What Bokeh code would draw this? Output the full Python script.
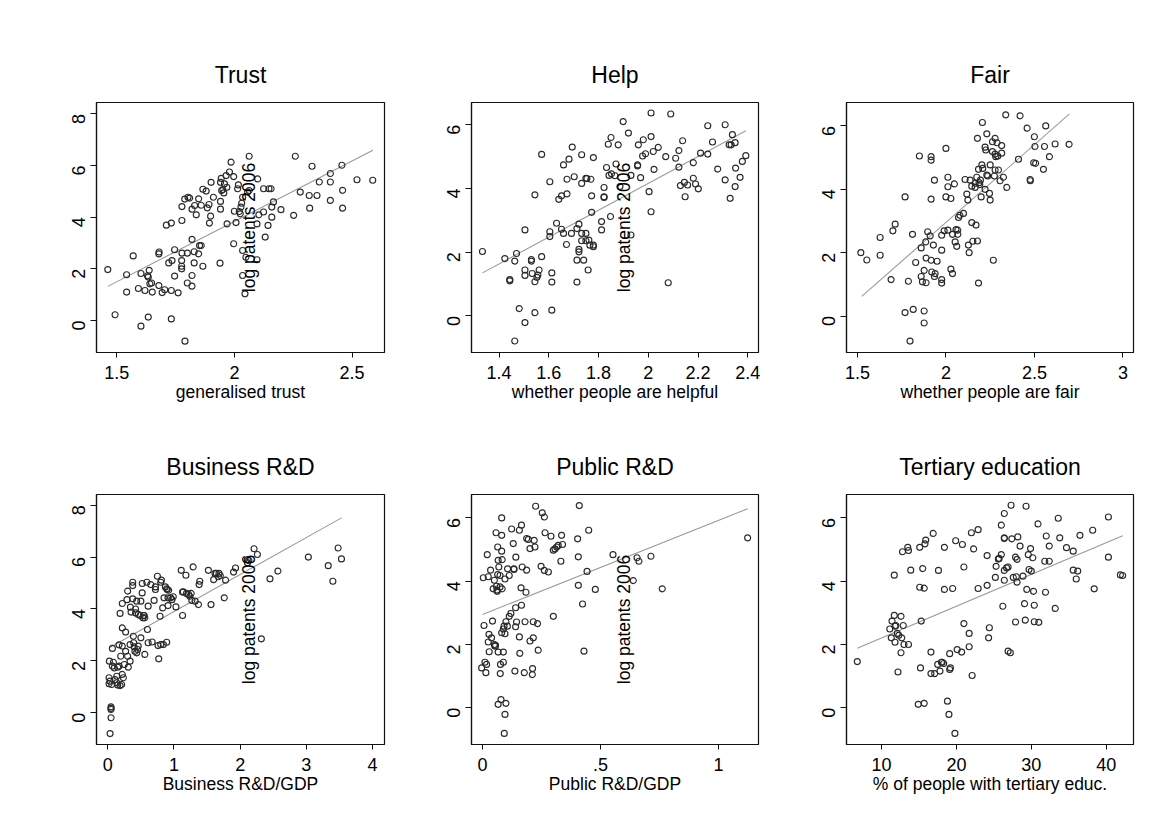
from math import pi
from bokeh.plotting import figure
from bokeh.models import Range1d, FixedTicker, Label
from bokeh.layouts import row, column
from bokeh.embed import file_html
from bokeh.resources import INLINE

FONT = "Liberation Sans"

# ---------------- data ----------------
trust_x = [1.462, 1.493, 1.542, 1.542, 1.570, 1.592, 1.603, 1.603, 1.620, 1.631, 1.634, 1.638, 1.641, 1.648,
           1.651, 1.634, 1.679, 1.679, 1.680, 1.693, 1.704, 1.711, 1.721, 1.732, 1.735, 1.732, 1.732, 1.746,
           1.746, 1.761, 1.776, 1.776, 1.776, 1.777, 1.777, 1.777, 1.790, 1.789, 1.800, 1.800, 1.803, 1.810,
           1.820, 1.820, 1.820, 1.820, 1.829, 1.829, 1.831, 1.838, 1.848, 1.848, 1.852, 1.859, 1.859, 1.866,
           1.866, 1.880, 1.885, 1.892, 1.894, 1.899, 1.901, 1.911, 1.939, 1.941, 1.941, 1.941, 1.944, 1.946,
           1.955, 1.951, 1.958, 1.968, 1.969, 1.965, 1.979, 1.986, 1.997, 1.997, 2.000, 2.007, 2.014, 2.017,
           2.021, 2.025, 2.028, 2.031, 2.035, 2.035, 2.035, 2.045, 2.049, 2.056, 2.063, 2.063, 2.096, 2.099,
           2.096, 2.104, 2.259, 2.330, 2.408, 2.457, 2.361, 2.408, 2.521, 2.588, 2.280, 2.318, 2.351, 2.460,
           2.320, 2.408, 2.460, 2.252, 2.198, 2.166, 2.159, 2.156, 2.147, 2.124, 2.143, 2.131, 2.159, 2.124]
trust_y = [1.97, 0.22, 1.77, 1.10, 2.50, 1.24, -0.22, 1.82, 1.16, 1.73, 0.13, 1.94, 1.42, 1.45,
           1.10, 1.68, 1.35, 2.58, 2.65, 1.08, 1.19, 3.69, 2.23, 3.77, 2.32, 0.06, 1.16, 2.74,
           1.72, 1.07, 2.32, 2.10, 2.00, 2.61, 3.87, 4.41, -0.80, 4.70, 1.45, 2.61, 4.77, 4.74,
           3.14, 1.33, 1.74, 4.31, 2.23, 2.66, 4.45, 4.09, 4.71, 2.58, 2.90, 2.90, 4.46, 5.08,
           2.10, 5.01, 4.36, 4.49, 3.77, 4.04, 5.35, 4.77, 2.22, 5.35, 4.31, 4.61, 5.50, 5.03,
           4.94, 5.07, 5.29, 5.16, 3.74, 5.61, 5.75, 6.13, 5.57, 2.97, 4.23, 3.79, 5.10, 5.25,
           4.22, 4.13, 4.39, 4.54, 4.77, 2.71, 1.74, 1.03, 2.45, 4.97, 6.36, 5.03, 2.35, 5.48,
           3.74, 4.09, 6.36, 5.97, 5.69, 6.01, 5.36, 5.36, 5.45, 5.43, 4.97, 4.84, 4.84, 5.04,
           4.35, 4.65, 4.35, 4.07, 4.29, 4.59, 4.39, 5.10, 5.10, 5.10, 3.68, 3.23, 4.00, 4.20]

help_x = [1.333, 1.423, 1.443, 1.443, 1.463, 1.470, 1.481, 1.463, 1.504, 1.504, 1.504, 1.504, 1.530, 1.530,
          1.533, 1.544, 1.544, 1.544, 1.552, 1.556, 1.561, 1.571, 1.571, 1.604, 1.604, 1.604, 1.612, 1.612,
          1.612, 1.631, 1.640, 1.651, 1.651, 1.659, 1.659, 1.671, 1.673, 1.673, 1.681, 1.691, 1.694, 1.702,
          1.713, 1.713, 1.713, 1.721, 1.721, 1.721, 1.732, 1.732, 1.732, 1.732, 1.740, 1.749, 1.749, 1.749,
          1.753, 1.758, 1.761, 1.765, 1.769, 1.772, 1.772, 1.779, 1.779, 1.779, 1.812, 1.812, 1.822, 1.822,
          1.822, 1.832, 1.839, 1.842, 1.848, 1.850, 1.852, 1.866, 1.870, 1.879, 1.886, 1.899, 1.920, 1.930,
          1.930, 1.957, 1.957, 1.960, 1.969, 1.977, 1.980, 1.989, 2.003, 2.011, 2.011, 2.011, 2.020, 2.023,
          2.040, 2.070, 2.080, 2.090, 2.239, 2.309, 2.338, 2.258, 2.138, 2.123, 2.110, 2.210, 2.239, 2.325,
          2.333, 2.349, 2.392, 2.378, 2.351, 2.369, 2.349, 2.329, 2.309, 2.279, 2.181, 2.181, 2.190, 2.201,
          2.158, 2.145, 2.129, 2.148, 2.123]
help_y = [2.02, 1.80, 1.14, 1.10, 1.72, 1.96, 0.23, -0.79, -0.21, 2.70, 1.44, 1.27, 1.77, 1.72,
          1.33, 3.80, 1.07, 0.10, 1.21, 1.28, 1.44, 5.07, 1.86, 4.21, 2.64, 2.49, 1.35, 1.06,
          0.18, 2.91, 3.66, 3.77, 2.72, 4.74, 2.59, 2.24, 3.83, 4.29, 4.92, 2.59, 5.30, 4.37,
          2.74, 1.06, 1.75, 2.88, 2.09, 2.01, 5.06, 4.16, 2.59, 2.36, 1.75, 2.59, 4.32, 2.36,
          4.31, 1.44, 2.38, 2.22, 4.29, 3.77, 3.25, 4.97, 2.17, 2.22, 2.96, 2.70, 4.03, 3.74,
          3.72, 4.66, 5.39, 4.41, 3.12, 5.60, 4.46, 4.40, 4.77, 5.37, 4.06, 6.10, 5.74, 4.41,
          2.54, 4.74, 4.71, 5.37, 4.34, 5.02, 5.53, 5.09, 3.90, 6.37, 5.63, 3.27, 5.16, 4.60,
          5.29, 5.00, 1.04, 6.34, 5.97, 6.00, 5.69, 5.46, 5.50, 5.19, 4.95, 5.11, 5.08, 5.37,
          5.37, 5.44, 5.03, 4.85, 4.64, 4.35, 4.06, 3.69, 4.27, 4.61, 4.81, 4.32, 4.14, 3.99,
          4.11, 4.19, 4.09, 3.74, 4.67]

fair_x = [1.519, 1.553, 1.628, 1.628, 1.690, 1.700, 1.713, 1.769, 1.769, 1.788, 1.797, 1.811, 1.815, 1.829,
          1.850, 1.860, 1.860, 1.867, 1.877, 1.877, 1.877, 1.886, 1.888, 1.888, 1.897, 1.911, 1.916, 1.916,
          1.916, 1.916, 1.920, 1.929, 1.935, 1.935, 1.939, 1.950, 1.976, 1.976, 1.976, 1.976, 1.990, 2.000,
          2.000, 2.011, 2.011, 2.011, 2.028, 2.028, 2.037, 2.037, 2.048, 2.052, 2.057, 2.061, 2.067, 2.067,
          2.071, 2.079, 2.099, 2.108, 2.118, 2.124, 2.127, 2.131, 2.137, 2.146, 2.146, 2.152, 2.165, 2.165,
          2.170, 2.174, 2.178, 2.178, 2.184, 2.184, 2.187, 2.191, 2.195, 2.199, 2.203, 2.206, 2.208, 2.221,
          2.221, 2.225, 2.231, 2.231, 2.236, 2.246, 2.250, 2.250, 2.263, 2.263, 2.268, 2.274, 2.278, 2.278,
          2.278, 2.282, 2.289, 2.293, 2.297, 2.306, 2.315, 2.315, 2.325, 2.338, 2.344, 2.410, 2.419, 2.459,
          2.476, 2.477, 2.496, 2.500, 2.503, 2.507, 2.551, 2.557, 2.564, 2.585, 2.617, 2.696]
fair_y = [2.00, 1.77, 2.48, 1.92, 1.15, 2.69, 2.90, 3.76, 0.11, 1.10, -0.79, 2.58, 0.21, 1.69,
          5.05, 2.15, 1.25, 1.08, 1.44, -0.22, 0.16, 2.34, 1.05, 1.83, 2.66, 2.53, 4.92, 5.03,
          3.69, 1.76, 1.39, 2.24, 1.25, 4.29, 1.34, 1.73, 2.08, 2.55, 1.15, 1.04, 2.69, 5.29,
          3.76, 4.08, 4.38, 2.71, 3.71, 1.48, 1.34, 2.58, 4.17, 2.34, 2.73, 2.20, 2.58, 2.71,
          3.11, 3.18, 3.24, 4.31, 3.85, 3.66, 2.24, 2.00, 4.29, 2.95, 4.10, 2.36, 4.19, 4.06,
          2.87, 4.38, 5.61, 2.37, 1.04, 4.63, 4.21, 4.15, 4.29, 3.76, 4.77, 6.11, 4.66, 4.00,
          5.33, 5.24, 5.75, 4.45, 4.42, 3.87, 3.66, 4.77, 5.19, 5.50, 1.76, 4.42, 5.61, 4.61,
          5.11, 5.03, 5.47, 5.05, 4.61, 4.27, 5.38, 5.14, 4.38, 6.35, 4.06, 4.95, 6.32, 5.93,
          4.31, 4.27, 4.84, 5.66, 5.35, 4.82, 4.63, 5.35, 6.00, 5.03, 5.43, 5.42]

bus_x = [0.035, 0.050, 0.050, 0.050, 0.050, 0.020, 0.035, 0.020, 0.060, 0.025, 0.085, 0.070, 0.100, 0.110,
         0.136, 0.150, 0.186, 0.136, 0.210, 0.220, 0.236, 0.170, 0.150, 0.070, 0.170, 0.220, 0.196, 0.186,
         0.220, 0.220, 0.270, 0.300, 0.290, 0.250, 0.270, 0.300, 0.310, 0.337, 0.337, 0.342, 0.352, 0.377,
         0.377, 0.377, 0.387, 0.392, 0.400, 0.410, 0.420, 0.420, 0.437, 0.437, 0.460, 0.450, 0.460, 0.490,
         0.500, 0.500, 0.520, 0.520, 0.530, 0.540, 0.550, 0.560, 0.560, 0.590, 0.600, 0.610, 0.610, 0.650,
         0.670, 0.700, 0.720, 0.720, 0.750, 0.760, 0.770, 0.790, 0.800, 0.800, 0.810, 0.830, 0.840, 0.850,
         0.870, 0.890, 0.890, 0.900, 0.910, 0.910, 0.920, 0.950, 0.970, 0.990, 1.030, 1.110, 1.130, 1.130,
         1.140, 1.180, 1.190, 1.220, 1.240, 1.260, 1.270, 1.290, 1.320, 1.370, 1.380, 1.390, 1.520, 1.560,
         1.600, 1.620, 1.640, 1.670, 1.680, 1.700, 1.760, 1.780, 1.900, 1.930, 2.110, 2.110, 2.130, 2.210,
         2.260, 2.320, 2.450, 2.570, 3.030, 3.330, 3.400, 3.480, 3.530]
bus_y = [-0.80, -0.19, 0.13, 0.23, 0.17, 1.12, 1.22, 1.35, 1.09, 1.99, 1.95, 1.80, 1.73, 1.28,
         1.16, 1.07, 1.05, 1.41, 1.09, 1.48, 1.35, 1.80, 1.76, 2.48, 2.62, 2.57, 2.18, 3.83,
         4.21, 3.27, 3.11, 4.69, 4.36, 1.86, 2.37, 2.18, 1.76, 1.99, 2.63, 4.07, 3.88, 5.03,
         4.90, 4.39, 2.95, 2.70, 2.54, 2.37, 4.00, 3.85, 4.30, 2.31, 2.57, 2.44, 3.79, 3.75,
         4.30, 2.89, 4.62, 4.98, 3.66, 3.75, 3.75, 2.25, 3.66, 5.03, 3.21, 2.70, 4.11, 4.94,
         2.73, 4.33, 4.75, 4.85, 5.26, 2.59, 2.08, 3.72, 2.63, 5.03, 5.11, 4.04, 2.63, 4.43,
         4.85, 2.72, 4.78, 4.75, 4.13, 4.43, 4.72, 4.43, 4.36, 4.47, 4.08, 5.49, 3.75, 4.65,
         4.66, 5.30, 4.60, 4.56, 4.49, 4.60, 4.33, 5.62, 4.30, 4.17, 4.94, 5.07, 5.49, 4.17,
         5.13, 5.37, 5.37, 5.24, 5.37, 5.29, 4.43, 5.11, 5.42, 5.58, 5.90, 5.78, 5.88, 6.32,
         6.10, 2.85, 5.16, 5.46, 6.00, 5.67, 5.07, 6.35, 5.93]

pub_x = [-0.004, 0.003, 0.006, 0.010, 0.014, 0.017, 0.020, 0.024, 0.024, 0.027, 0.028, 0.034, 0.038, 0.042,
         0.045, 0.050, 0.050, 0.052, 0.055, 0.057, 0.059, 0.061, 0.062, 0.064, 0.064, 0.066, 0.066, 0.066,
         0.069, 0.074, 0.074, 0.075, 0.076, 0.078, 0.081, 0.081, 0.081, 0.081, 0.083, 0.083, 0.088, 0.088,
         0.088, 0.091, 0.092, 0.095, 0.095, 0.095, 0.099, 0.099, 0.105, 0.106, 0.113, 0.113, 0.120, 0.123,
         0.130, 0.133, 0.133, 0.137, 0.140, 0.140, 0.141, 0.144, 0.156, 0.158, 0.156, 0.163, 0.165, 0.165,
         0.168, 0.177, 0.180, 0.184, 0.187, 0.187, 0.194, 0.201, 0.201, 0.211, 0.212, 0.215, 0.215, 0.219,
         0.222, 0.225, 0.233, 0.236, 0.248, 0.253, 0.262, 0.262, 0.265, 0.279, 0.290, 0.300, 0.300, 0.307,
         0.314, 0.321, 0.332, 0.335, 0.339, 0.403, 0.406, 0.406, 0.410, 0.424, 0.430, 0.443, 0.450, 0.478,
         0.553, 0.639, 0.655, 0.663, 0.714, 0.762, 1.124]
pub_y = [1.26, 4.11, 2.60, 1.44, 1.11, 1.37, 4.84, 4.14, 2.08, 2.32, 1.77, 4.35, 2.21, 2.74,
         3.76, 4.03, 2.00, 1.95, 1.97, 5.53, 3.84, 3.72, 3.68, 4.21, 5.08, 4.66, 1.76, 0.11,
         4.45, 4.18, 3.82, 1.08, 1.37, 0.26, 4.95, 5.45, 6.00, 2.37, 3.76, 4.68, 1.76, 1.44,
         2.49, 2.58, -0.81, -0.21, 2.34, 4.07, 2.72, 0.14, 2.58, 4.39, 4.18, 2.89, 2.98, 5.65,
         5.19, 4.39, 4.37, 1.16, 3.16, 2.56, 4.76, 2.71, 2.24, 1.72, 5.61, 3.79, 5.77, 3.24,
         4.45, 1.11, 2.72, 3.65, 4.35, 5.35, 5.32, 5.03, 2.11, 1.05, 1.24, 2.72, 2.21, 5.29,
         5.08, 6.37, 2.66, 1.82, 4.47, 6.16, 6.03, 4.34, 5.53, 4.29, 5.42, 2.89, 4.98, 5.02,
         5.08, 5.13, 4.63, 5.45, 5.16, 5.34, 4.77, 3.87, 6.39, 3.28, 1.79, 4.31, 5.61, 3.74,
         4.84, 4.02, 4.74, 4.63, 4.79, 3.76, 5.37]

tert_x = [6.76, 11.1, 11.3, 11.4, 11.7, 11.7, 11.8, 11.8, 11.9, 12.1, 12.2, 12.3, 12.6, 12.6,
          12.7, 12.8, 12.9, 13.0, 13.5, 13.6, 13.6, 13.9, 14.9, 15.1, 15.1, 15.2, 15.3, 15.5,
          15.7, 15.7, 15.8, 15.9, 16.6, 16.6, 16.9, 17.1, 17.5, 17.6, 17.8, 18.0, 18.1, 18.3,
          18.4, 18.4, 18.8, 19.0, 19.1, 19.1, 19.2, 19.5, 19.9, 19.8, 20.1, 20.7, 20.8, 21.0,
          21.0, 21.7, 21.7, 22.0, 22.1, 22.3, 22.9, 22.9, 24.1, 24.1, 24.3, 24.4, 25.2, 25.3,
          25.6, 25.7, 26.0, 26.0, 26.2, 26.4, 26.4, 26.4, 26.4, 26.4, 26.7, 26.9, 26.9, 27.2,
          27.3, 27.4, 27.6, 27.9, 27.9, 28.0, 28.1, 28.1, 28.2, 28.5, 28.9, 29.1, 29.2, 29.3,
          29.4, 29.6, 29.7, 29.9, 30.0, 30.2, 30.3, 30.4, 30.4, 30.9, 31.0, 31.8, 31.9, 32.0,
          32.4, 32.4, 33.2, 33.6, 33.8, 34.7, 35.6, 35.6, 36.0, 36.2, 36.5, 38.2, 40.3, 40.3,
          41.9, 42.2, 38.4]
tert_y = [1.46, 2.49, 2.21, 2.74, 2.92, 4.19, 2.58, 2.07, 2.60, 2.35, 1.13, 2.29, 2.89, 1.74,
          2.21, 4.93, 2.60, 2.00, 5.07, 4.97, 2.00, 4.35, 0.11, 3.81, 5.07, 1.26, 2.74, 4.40,
          0.14, 3.78, 5.18, 5.30, 1.08, 1.76, 5.51, 1.08, 1.37, 4.34, 1.16, 1.44, 1.44, 1.40,
          3.74, 5.07, 0.21, -0.21, 1.21, 1.71, 1.26, 3.77, 5.28, -0.81, 1.84, 1.76, 5.16, 2.66,
          4.45, 2.35, 1.93, 5.53, 1.02, 5.02, 5.63, 3.77, 4.81, 3.87, 2.21, 2.53, 4.12, 4.47,
          4.70, 4.72, 5.77, 4.84, 3.21, 6.14, 5.35, 4.03, 5.37, 4.34, 4.42, 4.45, 1.79, 1.74,
          6.40, 5.34, 4.12, 2.71, 4.76, 4.14, 4.69, 3.97, 5.40, 5.11, 4.16, 3.29, 2.77, 6.37,
          3.74, 4.84, 4.37, 5.03, 4.32, 4.74, 3.68, 3.24, 2.72, 5.81, 2.70, 4.63, 3.65, 5.43,
          5.11, 4.63, 3.14, 5.99, 5.37, 5.06, 4.95, 4.35, 4.07, 4.32, 5.45, 5.61, 6.03, 4.76,
          4.20, 4.18, 3.76]

# fitted-line end points
trust_fit_x, trust_fit_y = [1.462, 2.589], [1.32, 6.59]
help_fit_x, help_fit_y = [1.333, 2.392], [1.35, 5.81]
fair_fit_x, fair_fit_y = [1.524, 2.698], [0.62, 6.38]
bus_fit_x, bus_fit_y = [0.03, 3.53], [2.52, 7.51]
pub_fit_x, pub_fit_y = [0.0, 1.124], [2.95, 6.29]
tert_fit_x, tert_fit_y = [6.76, 42.2], [1.88, 5.44]

titles = ["Trust", "Help", "Fair", "Business R&D", "Public R&D", "Tertiary education"]
xlabels = ["generalised trust", "whether people are helpful", "whether people are fair",
           "Business R&D/GDP", "Public R&D/GDP", "% of people with tertiary educ."]
ytitle = "log patents 2006"

trust_ticks, trust_tick_labels = [1.5, 2, 2.5], ["1.5", "2", "2.5"]
help_ticks, help_tick_labels = [1.4, 1.6, 1.8, 2, 2.2, 2.4], ["1.4", "1.6", "1.8", "2", "2.2", "2.4"]
fair_ticks, fair_tick_labels = [1.5, 2, 2.5, 3], ["1.5", "2", "2.5", "3"]
bus_ticks, bus_tick_labels = [0, 1, 2, 3, 4], ["0", "1", "2", "3", "4"]
pub_ticks, pub_tick_labels = [0, 0.5, 1], ["0", ".5", "1"]
tert_ticks, tert_tick_labels = [10, 20, 30, 40], ["10", "20", "30", "40"]
y8_ticks, y8_tick_labels = [0, 2, 4, 6, 8], ["0", "2", "4", "6", "8"]
y6_ticks, y6_tick_labels = [0, 2, 4, 6], ["0", "2", "4", "6"]


def panel(title, xlabel, xs, ys, fx, fy, xr, yr, xt, xtl, yt, ytl, show_ytitle,
          width, height, bl, br, bt, bb):
    p = figure(width=width, height=height, output_backend="svg", toolbar_location=None,
               x_range=Range1d(*xr), y_range=Range1d(*yr),
               min_border_left=bl, min_border_right=br, min_border_top=bt, min_border_bottom=bb,
               background_fill_color="white", border_fill_color="white")
    p.title.text = title
    p.title.align = "center"
    p.title.text_font = FONT
    p.title.text_font_size = "23px"
    p.title.text_font_style = "normal"
    p.title.text_color = "#000000"
    p.title.standoff = 29
    p.grid.visible = False
    p.outline_line_color = "#111111"
    p.outline_line_width = 1.2
    for ax in (p.xaxis[0], p.yaxis[0]):
        ax.axis_line_color = "#111111"
        ax.axis_line_width = 1.2
        ax.major_tick_line_color = "#111111"
        ax.major_tick_in = 0
        ax.minor_tick_out = 0
        ax.minor_tick_in = 0
        ax.major_label_text_font = FONT
        ax.major_label_text_font_size = "18px"
        ax.major_label_text_color = "#000000"
    p.xaxis.ticker = FixedTicker(ticks=xt)
    p.xaxis.major_label_overrides = dict(zip(xt, xtl))
    p.xaxis.major_tick_out = 5
    p.xaxis.major_label_standoff = 8
    p.xaxis.axis_label = xlabel
    p.xaxis.axis_label_text_font = FONT
    p.xaxis.axis_label_text_font_size = "17.5px"
    p.xaxis.axis_label_text_font_style = "normal"
    p.xaxis.axis_label_text_color = "#000000"
    p.xaxis.axis_label_standoff = 0
    p.yaxis.ticker = FixedTicker(ticks=yt)
    p.yaxis.major_label_overrides = dict(zip(yt, ytl))
    p.yaxis.major_label_orientation = pi / 2
    p.yaxis.major_tick_out = 6
    p.yaxis.major_label_standoff = 12
    p.line(fx, fy, line_color="#9a9a9a", line_width=1.1)
    p.scatter(xs, ys, marker="circle", size=6, fill_color=None,
              line_color="#2a2a2a", line_width=1.15)
    if show_ytitle:
        lx = xr[0] + 0.53 * (xr[1] - xr[0])
        ly = yr[0] + 0.5 * (yr[1] - yr[0])
        p.add_layout(Label(x=lx, y=ly, text=ytitle, angle=pi / 2, text_align="center",
                           text_baseline="middle", text_font=FONT, text_font_size="17.5px",
                           text_color="#000000"))
    return p


# column / row geometry
W = [428, 375, 345]
BL = [96, 43, 43]
BR = [44, 45, 15]
H = [423, 394]
BT = [102, 71]
BB = [71, 73]

p1 = panel(titles[0], xlabels[0], trust_x, trust_y, trust_fit_x, trust_fit_y, (1.414, 2.638), (-1.24, 8.44),
           trust_ticks, trust_tick_labels, y8_ticks, y8_tick_labels, True, W[0], H[0], BL[0], BR[0], BT[0], BB[0])
p2 = panel(titles[1], xlabels[1], help_x, help_y, help_fit_x, help_fit_y, (1.289, 2.443), (-1.15, 6.70),
           help_ticks, help_tick_labels, y6_ticks, y6_tick_labels, True, W[1], H[0], BL[1], BR[1], BT[0], BB[0])
p3 = panel(titles[2], xlabels[2], fair_x, fair_y, fair_fit_x, fair_fit_y, (1.438, 3.06), (-1.15, 6.74),
           fair_ticks, fair_tick_labels, y6_ticks, y6_tick_labels, False, W[2], H[0], BL[2], BR[2], BT[0], BB[0])
p4 = panel(titles[3], xlabels[3], bus_x, bus_y, bus_fit_x, bus_fit_y, (-0.17, 4.18), (-1.22, 8.41),
           bus_ticks, bus_tick_labels, y8_ticks, y8_tick_labels, True, W[0], H[1], BL[0], BR[0], BT[1], BB[1])
p5 = panel(titles[4], xlabels[4], pub_x, pub_y, pub_fit_x, pub_fit_y, (-0.047, 1.17), (-1.16, 6.74),
           pub_ticks, pub_tick_labels, y6_ticks, y6_tick_labels, True, W[1], H[1], BL[1], BR[1], BT[1], BB[1])
p6 = panel(titles[5], xlabels[5], tert_x, tert_y, tert_fit_x, tert_fit_y, (5.32, 43.65), (-1.16, 6.74),
           tert_ticks, tert_tick_labels, y6_ticks, y6_tick_labels, False, W[2], H[1], BL[2], BR[2], BT[1], BB[1])

layout = column(row(p1, p2, p3), row(p4, p5, p6))

open("out.html", "w").write(file_html(layout, INLINE))
